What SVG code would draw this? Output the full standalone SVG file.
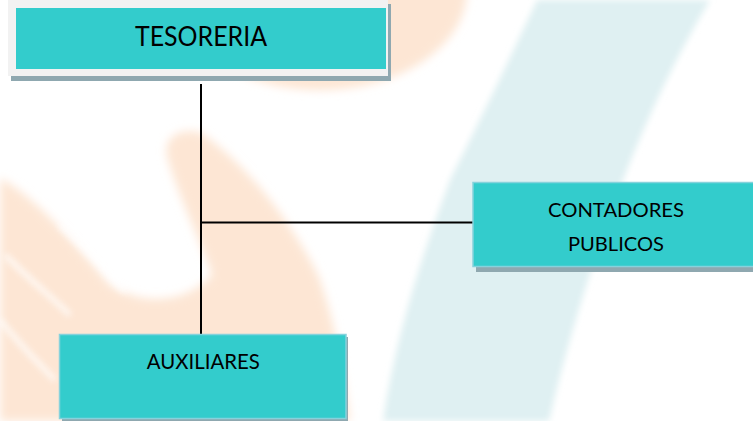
<svg xmlns="http://www.w3.org/2000/svg" width="753" height="421" viewBox="0 0 753 421">
  <defs>
    <filter id="soft" x="-20%" y="-20%" width="140%" height="140%">
      <feGaussianBlur stdDeviation="5"/>
    </filter>
    <filter id="soft2" x="-20%" y="-20%" width="140%" height="140%">
      <feGaussianBlur stdDeviation="3"/>
    </filter>
  </defs>
  <style>
    .box { fill: #33cccc; stroke: #86d2dc; stroke-width: 1.5; }
    .shadow { fill: #8fa8b0; }
    .lbl { font-family: Lato, "Open Sans", "Liberation Sans", sans-serif; fill: #000000; text-anchor: middle; }
    .conn { stroke: #000000; stroke-width: 2; fill: none; }
    .peach { fill: #fde6d4; }
  </style>
  <rect x="0" y="0" width="753" height="421" fill="#ffffff"/>
  <g id="watermark">
    <path d="M537,0 L710,0 C680,50 650,110 623,180 C600,240 570,330 549,421 L383,421 C395,340 420,260 450,180 C470,140 500,80 537,0 Z" fill="#dff0f2" filter="url(#soft2)"/>
    <ellipse cx="320" cy="-10" rx="147" ry="100" class="peach" filter="url(#soft)"/>
    <path d="M0,178 C40,200 80,250 110,285 C140,305 185,305 212,275 C200,240 180,200 168,160 C162,140 175,128 200,132 C240,160 285,210 318,275 C335,320 345,380 350,421 L0,421 Z" class="peach" filter="url(#soft)"/>
    <path d="M5,255 C30,280 55,300 70,315 M0,320 C20,345 40,365 55,380 M60,225 C90,252 110,272 125,292" stroke="#ffffff" stroke-width="5" fill="none" opacity="0.8" filter="url(#soft2)"/>
  </g>
  <g id="connectors">
    <line class="conn" x1="201" y1="84" x2="201" y2="334"/>
    <line class="conn" x1="201" y1="222.5" x2="473" y2="222.5"/>
  </g>
  <g id="tesoreria">
    <rect class="shadow" x="11" y="4" width="380" height="77"/>
    <rect x="8" y="-2" width="380" height="78" fill="#f2f2f2"/>
    <rect x="16" y="8" width="370" height="61" fill="#33cccc"/>
    <text class="lbl" x="201" y="46" font-size="27" textLength="132" lengthAdjust="spacingAndGlyphs">TESORERIA</text>
  </g>
  <g id="contadores">
    <rect class="shadow" x="476" y="186" width="280" height="86"/>
    <rect class="box" x="473" y="182.5" width="285" height="84"/>
    <text class="lbl" x="616" y="216.7" font-size="20" textLength="136" lengthAdjust="spacingAndGlyphs">CONTADORES</text>
    <text class="lbl" x="616" y="251" font-size="20" textLength="96" lengthAdjust="spacingAndGlyphs">PUBLICOS</text>
  </g>
  <g id="auxiliares">
    <rect class="shadow" x="62" y="337" width="286" height="84"/>
    <rect class="box" x="59.5" y="334.5" width="286.5" height="84"/>
    <text class="lbl" x="203.3" y="369" font-size="20.5" textLength="113" lengthAdjust="spacingAndGlyphs">AUXILIARES</text>
  </g>
</svg>
